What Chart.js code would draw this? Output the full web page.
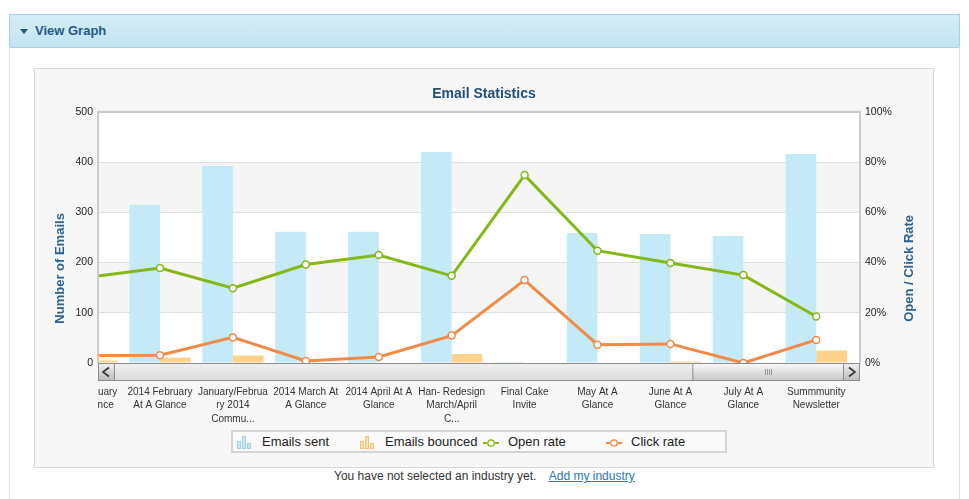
<!DOCTYPE html>
<html>
<head>
<meta charset="utf-8">
<script src="https://cdn.jsdelivr.net/npm/chart.js@4.4.1/dist/chart.umd.min.js"></script>
<style>
  body { margin: 0; background: #fff; font-family: "Liberation Sans", Arial, sans-serif; }
  .header {
    position: absolute; left: 9px; top: 14px; width: 949px; height: 32px;
    background: linear-gradient(#d4edf7, #c2e3f1); border: 1px solid #a9d0e1;
  }
  .header span { position: absolute; left: 25px; top: 8px; font-size: 13px; font-weight: bold; color: #245a80; }
  .header i { position: absolute; left: 10px; top: 14px; width: 0; height: 0;
    border-left: 4px solid transparent; border-right: 4px solid transparent; border-top: 5px solid #245a80; }
  .panel { position: absolute; left: 9px; top: 47px; width: 949px; height: 460px;
    border-left: 1px solid #cfe3ec; border-right: 1px solid #cfe3ec; }
  .box { position: absolute; left: 34px; top: 68px; width: 898px; height: 398px;
    border: 1px solid #d6d6d6; background: #f7f7f7; }
  .legend { position: absolute; left: 196px; top: 361px; width: 492px; height: 19px;
    border: 2px solid #d4d4d4; background: #fafafa; font-size: 13px; color: #222; }
  .legend .item { position: absolute; top: 2px; white-space: nowrap; }
  .legend svg { position: absolute; left: 0; top: 1px; }
  .legend .item span { position: absolute; left: 25px; top: 0; }
  .note { position: absolute; left: 334px; top: 469px; font-size: 12px; color: #333; }
  .note a { color: #2a7ab8; margin-left: 9px; }
</style>
</head>
<body>
<div class="header"><i></i><span>View Graph</span></div>
<div class="panel"></div>
<div class="box">
  <canvas id="emailChart" width="898" height="398"></canvas>
  <div class="legend" id="legend"></div>
</div>
<div class="note">You have not selected an industry yet. <a href="#">Add my industry</a></div>

<script>
const tickLabels = [
  ['2014 January', 'At A Glance'],
  ['2014 February', 'At A Glance'],
  ['January/Februa', 'ry 2014', 'Commu...'],
  ['2014 March At', 'A Glance'],
  ['2014 April At A', 'Glance'],
  ['Han- Redesign', 'March/April', 'C...'],
  ['Final Cake', 'Invite'],
  ['May At A', 'Glance'],
  ['June At A', 'Glance'],
  ['July At A', 'Glance'],
  ['Summmunity', 'Newsletter']
];
const emailsSent = [300, 315, 392, 261, 261, 420, 2, 259, 257, 253, 416];
const emailsBounced = [5, 11, 15, 1, 1, 18, 0, 0, 3, 0, 25];
const openRate = [34.1, 37.8, 29.8, 39.2, 43.0, 34.7, 74.8, 44.7, 39.8, 35.0, 18.5];
const clickRate = [3.0, 3.1, 10.2, 0.8, 2.4, 10.9, 33.0, 7.3, 7.6, 0.0, 9.2];
const leftTicks = [0, 100, 200, 300, 400, 500];
const rightTicks = [0, 20, 40, 60, 80, 100];

const blue = '#c4eaf8', gold = '#fdd28c', green = '#84b818', orange = '#f28a47';
const xy = arr => arr.map((v, i) => ({ x: i, y: v }));

// plot background bands, frame and the scroll bar under the plot
const decor = {
  id: 'decor',
  beforeDraw(chart) {
    const { ctx, chartArea: a, scales } = chart;
    const x = scales.x;
    if (!x._clipWrapped) {
      const orig = x.drawLabels;
      x.drawLabels = function (area) {
        ctx.save();
        ctx.beginPath();
        ctx.rect(chart.chartArea.left, 0, chart.chartArea.width, chart.height);
        ctx.clip();
        orig.call(this, area);
        ctx.restore();
      };
      x._clipWrapped = true;
    }
    ctx.save();
    ctx.fillStyle = '#fff';
    ctx.fillRect(a.left, a.top, a.width, a.height);
    ctx.fillStyle = '#f5f5f5';
    for (let i = 1; i < leftTicks.length - 1; i += 2) {
      const y0 = scales.y.getPixelForValue(leftTicks[i]);
      const y1 = scales.y.getPixelForValue(leftTicks[i + 1]);
      ctx.fillRect(a.left, y1, a.width, y0 - y1);
    }
    ctx.restore();
  },
  afterDraw(chart) {
    const { ctx, chartArea: a } = chart;
    ctx.save();
    ctx.strokeStyle = '#cccccc';
    ctx.lineWidth = 2;
    ctx.beginPath();
    ctx.moveTo(a.left, a.bottom);
    ctx.lineTo(a.left, a.top);
    ctx.lineTo(a.right, a.top);
    ctx.lineTo(a.right, a.bottom);
    ctx.stroke();

    // scroll bar
    const top = a.bottom, h = 17, btn = 17;
    let g = ctx.createLinearGradient(0, top, 0, top + h);
    g.addColorStop(0, '#f0f0f0'); g.addColorStop(1, '#dcdcdc');
    ctx.fillStyle = g;
    ctx.fillRect(a.left, top, a.width, h);
    ctx.strokeStyle = '#8c8c8c';
    ctx.lineWidth = 1;
    ctx.strokeRect(a.left + 0.5, top + 0.5, a.width - 1, h);
    const thumbL = a.left + a.width * 0.78, thumbR = a.right - btn;
    g = ctx.createLinearGradient(0, top, 0, top + h);
    g.addColorStop(0, '#fbfbfb'); g.addColorStop(1, '#c9c9c9');
    ctx.fillStyle = g;
    ctx.fillRect(thumbL, top, thumbR - thumbL, h);
    ctx.strokeRect(thumbL + 0.5, top + 0.5, thumbR - thumbL, h);
    [a.left, a.right - btn].forEach(bx => {
      const gb = ctx.createLinearGradient(0, top, 0, top + h);
      gb.addColorStop(0, '#f2f2f2'); gb.addColorStop(1, '#bdbdbd');
      ctx.fillStyle = gb;
      ctx.fillRect(bx, top, btn, h);
      ctx.strokeRect(bx + 0.5, top + 0.5, btn - 1, h);
    });
    ctx.strokeStyle = '#333';
    ctx.lineWidth = 1.6;
    ctx.beginPath();
    ctx.moveTo(a.left + 11, top + 4.5); ctx.lineTo(a.left + 5, top + 9); ctx.lineTo(a.left + 11, top + 13.5);
    ctx.moveTo(a.right - 11, top + 4.5); ctx.lineTo(a.right - 5, top + 9); ctx.lineTo(a.right - 11, top + 13.5);
    ctx.stroke();
    ctx.strokeStyle = '#999';
    ctx.lineWidth = 1;
    const mid = Math.round((thumbL + thumbR) / 2);
    ctx.beginPath();
    for (let k = -3; k <= 3; k += 2) {
      ctx.moveTo(mid + k + 0.5, top + 6); ctx.lineTo(mid + k + 0.5, top + 12);
    }
    ctx.stroke();

    // axis titles
    ctx.fillStyle = '#2a6392';
    ctx.font = 'bold 13px "Liberation Sans", Arial, sans-serif';
    ctx.textAlign = 'center';
    ctx.textBaseline = 'middle';
    const cy = (a.top + a.bottom) / 2 + 31;
    ctx.translate(25, cy);
    ctx.rotate(-Math.PI / 2);
    ctx.fillText('Number of Emails', 0, 0);
    ctx.restore();
    ctx.save();
    ctx.fillStyle = '#2a6392';
    ctx.font = 'bold 13px "Liberation Sans", Arial, sans-serif';
    ctx.textAlign = 'center';
    ctx.textBaseline = 'middle';
    ctx.translate(874, cy);
    ctx.rotate(-Math.PI / 2);
    ctx.fillText('Open / Click Rate', 0, 0);
    ctx.restore();
  }
};

const tickFont = { family: '"Liberation Sans", Arial, sans-serif', size: 10.5 };

const chart = new Chart(document.getElementById('emailChart'), {
  data: {
    datasets: [
      {
        type: 'line', label: 'Open rate', data: xy(openRate), yAxisID: 'y1',
        borderColor: green, borderWidth: 3, pointRadius: 3.5, pointBorderWidth: 1.5,
        pointBackgroundColor: '#fff', pointBorderColor: green, tension: 0, order: 1
      },
      {
        type: 'line', label: 'Click rate', data: xy(clickRate), yAxisID: 'y1',
        borderColor: orange, borderWidth: 3, pointRadius: 3.5, pointBorderWidth: 1.5,
        pointBackgroundColor: '#fff', pointBorderColor: orange, tension: 0, order: 0
      },
      {
        type: 'bar', label: 'Emails sent', data: xy(emailsSent), yAxisID: 'y',
        backgroundColor: blue, barPercentage: 1, categoryPercentage: 0.84, order: 2
      },
      {
        type: 'bar', label: 'Emails bounced', data: xy(emailsBounced), yAxisID: 'y',
        backgroundColor: gold, barPercentage: 1, categoryPercentage: 0.84, order: 3
      }
    ]
  },
  options: {
    responsive: false,
    animation: false,
    layout: { padding: 0 },
    plugins: {
      legend: { display: false },
      tooltip: { enabled: false },
      title: {
        display: true,
        text: 'Email Statistics',
        color: '#1f5078',
        font: { family: '"Liberation Sans", Arial, sans-serif', size: 14, weight: 'bold' },
        padding: { top: 17, bottom: 9 }
      }
    },
    scales: {
      x: {
        type: 'linear',
        offset: false,
        min: 0.15,
        max: 10.6,
        afterBuildTicks: s => { s.ticks = tickLabels.map((_, i) => ({ value: i })); },
        afterFit: s => { s.height = 104; },
        grid: { display: false, offset: false },
        border: { display: false },
        ticks: {
          autoSkip: false, maxRotation: 0, padding: 14, color: '#333',
          font: { family: tickFont.family, size: 10, lineHeight: 1.35 },
          callback: v => tickLabels[v]
        }
      },
      y: {
        position: 'left',
        min: 0, max: 500,
        afterBuildTicks: s => { s.ticks = leftTicks.map(v => ({ value: v })); },
        afterFit: s => { s.width = 63; },
        grid: {
          color: ctx => ctx.tick && ctx.tick.value === 500 ? '#cccccc' : '#dedede',
          lineWidth: ctx => ctx.tick && ctx.tick.value === 500 ? 2 : 1,
          drawTicks: false
        },
        border: { display: false },
        ticks: { padding: 5, color: '#222', font: tickFont }
      },
      y1: {
        position: 'right',
        min: 0, max: 100,
        afterBuildTicks: s => { s.ticks = rightTicks.map(v => ({ value: v })); },
        afterFit: s => { s.width = 73; },
        grid: { drawOnChartArea: false, drawTicks: false },
        border: { display: false },
        ticks: { padding: 5, color: '#222', font: tickFont, callback: v => v + '%' }
      }
    }
  },
  plugins: [decor]
});

// legend built from the datasets
const icons = {
  bar: c => `<svg width="14" height="14"><rect x="0.5" y="6.5" width="3" height="7" fill="${c}" fill-opacity="0.5" stroke="${c}"/><rect x="5.5" y="1.5" width="3" height="12" fill="${c}" fill-opacity="0.5" stroke="${c}"/><rect x="10.5" y="8.5" width="3" height="5" fill="${c}" fill-opacity="0.5" stroke="${c}"/></svg>`,
  line: c => `<svg width="16" height="14"><line x1="0" y1="8" x2="16" y2="8" stroke="${c}" stroke-width="2" stroke-dasharray="4 8"/><circle cx="8" cy="8" r="3.2" fill="#fff" stroke="${c}" stroke-width="1.3"/></svg>`
};
const legendOrder = ['Emails sent', 'Emails bounced', 'Open rate', 'Click rate'];
const legendColors = { 'Emails sent': '#9fd3ea', 'Emails bounced': '#f5c46e', 'Open rate': green, 'Click rate': orange };
const legendEl = document.getElementById('legend');
legendOrder.forEach((name, i) => {
  const ds = chart.data.datasets.find(d => d.label === name);
  const div = document.createElement('div');
  div.className = 'item';
  div.style.left = (4 + i * 123) + 'px';
  div.innerHTML = icons[ds.type](legendColors[name]) + '<span>' + name + '</span>';
  legendEl.appendChild(div);
});
</script>
</body>
</html>
